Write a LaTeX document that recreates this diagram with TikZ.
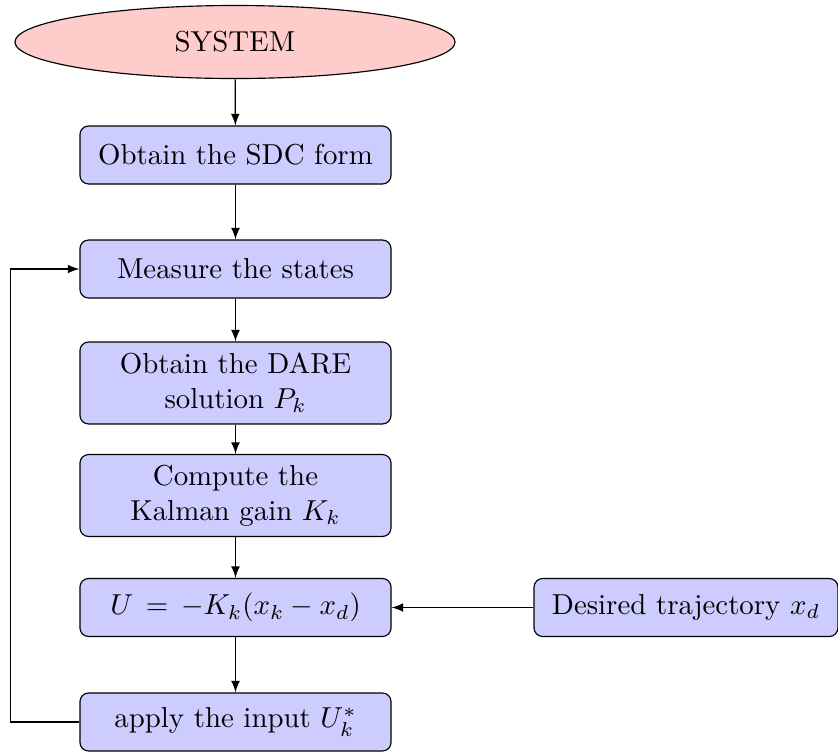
\documentclass[tikz,border=0pt]{standalone}
\usetikzlibrary{shapes.geometric,arrows}
\begin{document}
\begin{tikzpicture}[x=0.3465pt,y=-0.3465pt,
  stepbox/.style={draw,rounded corners=3pt,fill=blue!20,align=center,minimum width=107.8pt,minimum height=20.1pt,inner sep=3pt},
  sysell/.style={draw,ellipse,fill=red!20,minimum width=152.5pt,minimum height=25.3pt},
  conn/.style={-latex,thin}]
\useasboundingbox (0,0) rectangle (838,751);
\node[sysell] (sys) at (235,42) {SYSTEM};
\node[stepbox] (sdc) at (235.5,155) {Obtain the SDC form};
\node[stepbox] (meas) at (235.5,269) {Measure the states};
\node[stepbox,minimum height=28.4pt] (dare) at (235.5,383) {Obtain the DARE\\solution $P_k$};
\node[stepbox,minimum height=28.4pt] (gain) at (235.5,495.5) {Compute the\\Kalman gain $K_k$};
\node[stepbox] (ctrl) at (235.5,607.5) {$U\,=\,-K_k(x_k-x_d)$};
\node[stepbox,minimum width=105.3pt] (des) at (686,607.5) {Desired trajectory $x_d$};
\node[stepbox] (app) at (235.5,722) {apply the input $U_k^*$};
\coordinate (fb) at (10.5,722);
\draw[conn] (sys) -- (sdc);
\draw[conn] (sdc) -- (meas);
\draw[conn] (meas) -- (dare);
\draw[conn] (dare) -- (gain);
\draw[conn] (gain) -- (ctrl);
\draw[conn] (ctrl) -- (app);
\draw[conn] (des) -- (ctrl);
\draw[conn] (app.west) -- (fb) |- (meas.west);
\end{tikzpicture}
\end{document}
